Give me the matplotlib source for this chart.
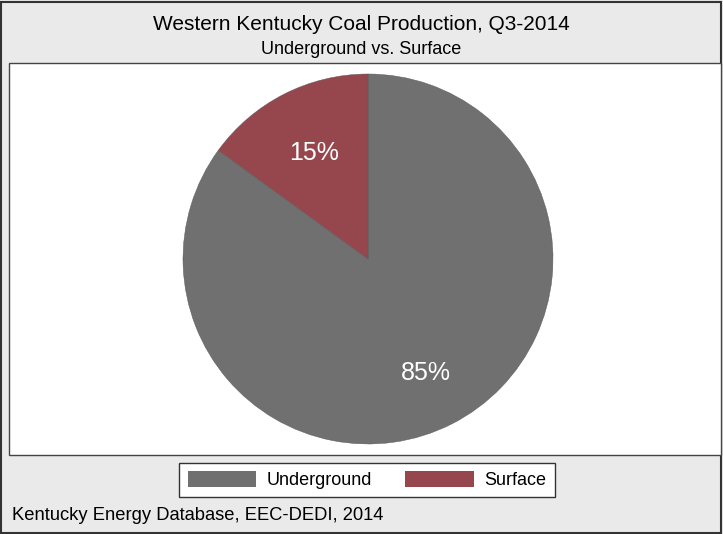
import matplotlib.pyplot as plt
from matplotlib.patches import Rectangle

plt.rcParams['font.family'] = ['Liberation Sans', 'DejaVu Sans']

# data
labels = ['Underground', 'Surface']
shares = [85, 15]
colors = ['#707070', '#96474E']

title = 'Western Kentucky Coal Production, Q3-2014'
subtitle = 'Underground vs. Surface'
source = 'Kentucky Energy Database, EEC-DEDI, 2014'

W, H = 723, 534
fig = plt.figure(figsize=(W / 100, H / 100), dpi=100)
fig.patch.set_facecolor('#EAEAEA')

# outer border
fig.patches.append(Rectangle((1 / W, 1 / H), 1 - 3 / W, 1 - 3 / H, transform=fig.transFigure,
                             fill=False, edgecolor='#333333', linewidth=1.5, zorder=-10))
# white plot region
fig.patches.append(Rectangle((9 / W, 1 - 455 / H), 712 / W, 392 / H, transform=fig.transFigure,
                             facecolor='white', edgecolor='#444444', linewidth=1.0, zorder=-10))

fig.text(0.5, 1 - 25 / H, title, ha='center', va='center', fontsize=15)
fig.text(0.5, 1 - 49 / H, subtitle, ha='center', va='center', fontsize=13)
fig.text(12 / W, 1 - 516 / H, source, ha='left', va='center', fontsize=13.2)

# pie axes: centre (368, 259), radius 185 px
r = 185
ax = fig.add_axes([(368 - r) / W, 1 - (259 + r) / H, 2 * r / W, 2 * r / H])
wedges, _, autotexts = ax.pie(shares, colors=colors, startangle=90, counterclock=False,
                              autopct='%1.0f%%', pctdistance=0.67, radius=1.0,
                              wedgeprops=dict(linewidth=0.3, edgecolor='#555555'),
                              textprops=dict(color='white', fontsize=18))
# labels sit a little lower in the original
for t in autotexts:
    x, y = t.get_position()
    t.set_position((x + 2 / r, y - 4 / r))
ax.set_xlim(-1, 1)
ax.set_ylim(-1, 1)
ax.set_aspect('equal')
ax.axis('off')

leg = fig.legend(wedges, labels, loc='center', bbox_to_anchor=(367 / W, 1 - 480 / H),
                 ncol=2, frameon=True, fancybox=False, framealpha=1, fontsize=13,
                 handlelength=3.8, handleheight=1.0, columnspacing=1.8, handletextpad=0.6,
                 borderpad=0.45, edgecolor='#333333')
leg.get_frame().set_linewidth(1.0)
for h in leg.legend_handles:
    h.set_linewidth(0)

fig.savefig('out.png', dpi=100, facecolor=fig.get_facecolor())
